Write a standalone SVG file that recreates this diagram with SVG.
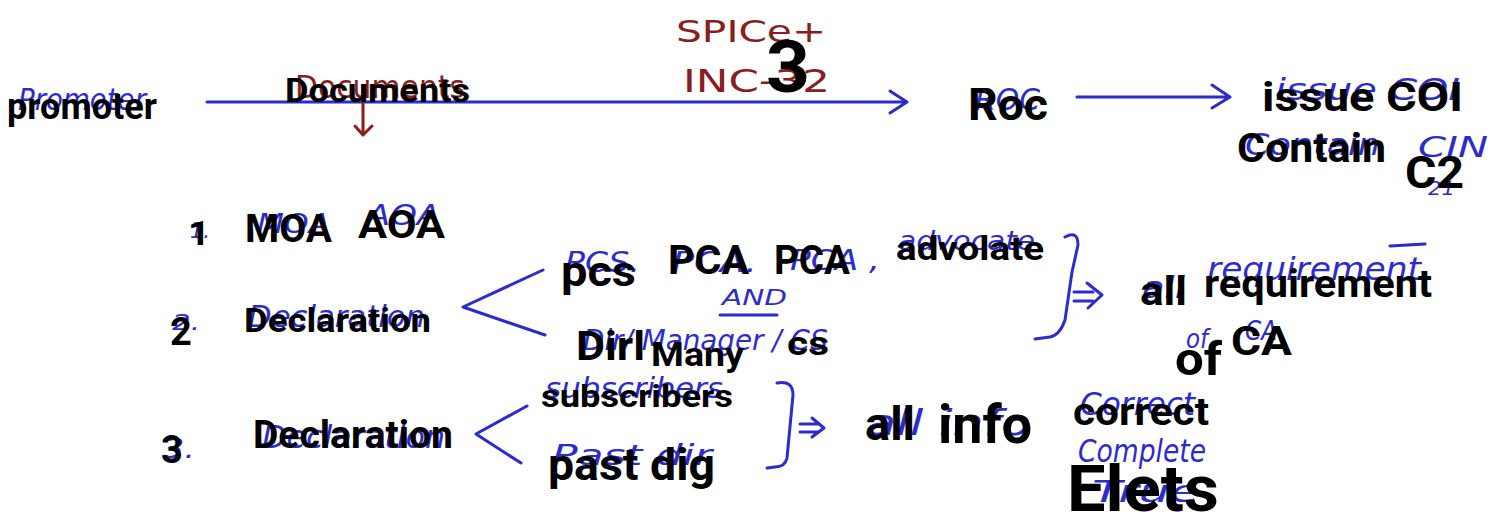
<svg xmlns="http://www.w3.org/2000/svg" width="1492" height="512" viewBox="0 0 1492 512">
  <defs>
    <style>
      .ink { fill: none; stroke: #2b2bcf; stroke-width: 3; stroke-linecap: round; stroke-linejoin: round; }
      .ink-red { fill: none; stroke: #8a1d1d; stroke-width: 3; stroke-linecap: round; stroke-linejoin: round; }
      .hand { font-family: "DejaVu Sans", "Noto Sans", sans-serif; font-style: oblique; font-weight: 400; fill: #2b2bcf; }
      .hand-red { font-family: "DejaVu Sans", "Noto Sans", sans-serif; font-weight: 400; fill: #8a1d1d; }
      .label { font-family: Roboto, Inter, "Liberation Sans", sans-serif; font-weight: 700; fill: #000; }
    </style>
  </defs>

  <rect x="0" y="0" width="1492" height="512" fill="#ffffff"/>

  <!-- arrows, brackets and branch marks -->
  <g id="connectors">
    <path class="ink" d="M207 102 H907 M890 91 L907 102 L890 113"/>
    <path class="ink" d="M1077 97 H1230 M1212 85 L1230 97 L1212 108"/>
    <path class="ink-red" d="M363 103 V135 M355 126 L363 135 L372 126"/>
    <path class="ink" d="M543 270 L463 307 L545 335"/>
    <path class="ink" d="M527 406 L476 434 L521 463"/>
    <path class="ink" d="M1065 237 Q1078 230 1078 245 L1072 272 L1065 320 Q1060 335 1050 337 L1035 339"/>
    <path class="ink" d="M1074 292 H1093 M1074 301 H1093 M1087 283 L1102 295 L1088 308"/>
    <path class="ink" d="M777 383 Q793 380 793 395 L787 458 Q785 467 775 467 L767 468"/>
    <path class="ink" d="M800 424 H818 M800 432 H818 M812 418 L824 428 L812 437"/>
    <path class="ink" d="M720 315 H777"/>
    <path class="ink" d="M1390 246 L1425 244"/>
  </g>

  <g id="promoter">
    <text class="hand" x="18" y="110" font-size="30" textLength="128" lengthAdjust="spacingAndGlyphs">Promoter</text>
    <text class="label" x="7" y="119" font-size="37" textLength="150" lengthAdjust="spacingAndGlyphs">promoter</text>
  </g>

  <g id="documents">
    <text class="hand-red" x="295" y="98" font-size="32" textLength="170" lengthAdjust="spacingAndGlyphs">Documents</text>
    <text class="label" x="285" y="102" font-size="33" textLength="185" lengthAdjust="spacingAndGlyphs">Documents</text>
  </g>

  <g id="spice">
    <text class="hand-red" x="676" y="42" font-size="30" textLength="150" lengthAdjust="spacingAndGlyphs">SPICe+</text>
    <text class="hand-red" x="683" y="92" font-size="32" textLength="147" lengthAdjust="spacingAndGlyphs">INC-32</text>
    <text class="label" x="766" y="92" font-size="73" textLength="44" lengthAdjust="spacingAndGlyphs">3</text>
  </g>

  <g id="roc">
    <text class="hand" x="975" y="110" font-size="30" textLength="65" lengthAdjust="spacingAndGlyphs">ROC</text>
    <text class="label" x="968" y="120" font-size="45" textLength="80" lengthAdjust="spacingAndGlyphs">Roc</text>
  </g>

  <g id="coi">
    <text class="hand" x="1275" y="100" font-size="30" textLength="185" lengthAdjust="spacingAndGlyphs">issue COI</text>
    <text class="hand" x="1245" y="155" font-size="30" textLength="135" lengthAdjust="spacingAndGlyphs">Contain</text>
    <text class="hand" x="1418" y="157" font-size="28" textLength="70" lengthAdjust="spacingAndGlyphs">CIN</text>
    <text class="hand" x="1428" y="195" font-size="20" textLength="27" lengthAdjust="spacingAndGlyphs">21</text>
    <text class="label" x="1262" y="111" font-size="41" textLength="201" lengthAdjust="spacingAndGlyphs">issue COI</text>
    <text class="label" x="1237" y="162" font-size="41" textLength="149" lengthAdjust="spacingAndGlyphs">Contain</text>
    <text class="label" x="1405" y="188" font-size="44" textLength="59" lengthAdjust="spacingAndGlyphs">C2</text>
  </g>

  <g id="item-1">
    <text class="hand" x="190" y="238" font-size="22" textLength="20" lengthAdjust="spacingAndGlyphs">1.</text>
    <text class="hand" x="257" y="233" font-size="26" textLength="73" lengthAdjust="spacingAndGlyphs">MOA</text>
    <text class="hand" x="367" y="225" font-size="28" textLength="73" lengthAdjust="spacingAndGlyphs">AOA</text>
    <text class="label" x="188" y="245" font-size="33" textLength="22" lengthAdjust="spacingAndGlyphs">1</text>
    <text class="label" x="245" y="242" font-size="38" textLength="87" lengthAdjust="spacingAndGlyphs">MOA</text>
    <text class="label" x="358" y="238" font-size="39" textLength="87" lengthAdjust="spacingAndGlyphs">AOA</text>
  </g>

  <g id="item-2">
    <text class="hand" x="172" y="330" font-size="22" textLength="28" lengthAdjust="spacingAndGlyphs">2.</text>
    <text class="hand" x="248" y="327" font-size="30" textLength="177" lengthAdjust="spacingAndGlyphs">Declaration</text>
    <text class="label" x="170" y="345" font-size="38">2</text>
    <text class="label" x="244" y="332" font-size="34" textLength="187" lengthAdjust="spacingAndGlyphs">Declaration</text>
  </g>

  <g id="signers">
    <text class="hand" x="565" y="272" font-size="28" textLength="75" lengthAdjust="spacingAndGlyphs">PCS.</text>
    <text class="hand" x="672" y="272" font-size="28" textLength="85" lengthAdjust="spacingAndGlyphs">PCA.</text>
    <text class="hand" x="790" y="270" font-size="28" textLength="90" lengthAdjust="spacingAndGlyphs">PCA ,</text>
    <text class="hand" x="898" y="250" font-size="26" textLength="137" lengthAdjust="spacingAndGlyphs">advocate</text>
    <text class="hand" x="722" y="305" font-size="22" textLength="65" lengthAdjust="spacingAndGlyphs">AND</text>
    <text class="hand" x="583" y="350" font-size="28" textLength="245" lengthAdjust="spacingAndGlyphs">Dir/ Manager / CS</text>
    <text class="label" x="561" y="286" font-size="43" textLength="75" lengthAdjust="spacingAndGlyphs">pcs</text>
    <text class="label" x="668" y="274" font-size="40" textLength="81" lengthAdjust="spacingAndGlyphs">PCA</text>
    <text class="label" x="774" y="274" font-size="40" textLength="76" lengthAdjust="spacingAndGlyphs">PCA</text>
    <text class="label" x="896" y="260" font-size="34" textLength="148" lengthAdjust="spacingAndGlyphs">advolate</text>
    <text class="label" x="576" y="360" font-size="40" textLength="69" lengthAdjust="spacingAndGlyphs">Dirl</text>
    <text class="label" x="651" y="366" font-size="33" textLength="93" lengthAdjust="spacingAndGlyphs">Many</text>
    <text class="label" x="787" y="355" font-size="33" textLength="42" lengthAdjust="spacingAndGlyphs">cs</text>
  </g>

  <g id="requirement">
    <text class="hand" x="1142" y="298" font-size="30" textLength="43" lengthAdjust="spacingAndGlyphs">all</text>
    <text class="hand" x="1207" y="280" font-size="32" textLength="214" lengthAdjust="spacingAndGlyphs">requirement</text>
    <text class="hand" x="1186" y="348" font-size="26" textLength="22" lengthAdjust="spacingAndGlyphs">of</text>
    <text class="hand" x="1245" y="340" font-size="26" textLength="32" lengthAdjust="spacingAndGlyphs">CA</text>
    <text class="label" x="1140" y="305" font-size="41" textLength="47" lengthAdjust="spacingAndGlyphs">all</text>
    <text class="label" x="1204" y="297" font-size="38" textLength="228" lengthAdjust="spacingAndGlyphs">requirement</text>
    <text class="label" x="1175" y="375" font-size="46" textLength="47" lengthAdjust="spacingAndGlyphs">of</text>
    <text class="label" x="1231" y="355" font-size="40" textLength="61" lengthAdjust="spacingAndGlyphs">CA</text>
  </g>

  <g id="item-3">
    <text class="hand" x="163" y="458" font-size="26" textLength="32" lengthAdjust="spacingAndGlyphs">3.</text>
    <text class="hand" x="262" y="448" font-size="32" textLength="183" lengthAdjust="spacingAndGlyphs">Declaration</text>
    <text class="label" x="161" y="463" font-size="38">3</text>
    <text class="label" x="253" y="448" font-size="38" textLength="200" lengthAdjust="spacingAndGlyphs">Declaration</text>
  </g>

  <g id="subscribers">
    <text class="hand" x="545" y="398" font-size="28" textLength="178" lengthAdjust="spacingAndGlyphs">subscribers</text>
    <text class="hand" x="552" y="465" font-size="28" textLength="160" lengthAdjust="spacingAndGlyphs">Past dir</text>
    <text class="label" x="541" y="407" font-size="31" textLength="192" lengthAdjust="spacingAndGlyphs">subscribers</text>
    <text class="label" x="548" y="480" font-size="44" textLength="167" lengthAdjust="spacingAndGlyphs">past dig</text>
  </g>

  <g id="all-info">
    <text class="hand" x="866" y="435" font-size="36" textLength="165" lengthAdjust="spacingAndGlyphs">all info</text>
    <text class="hand" x="1080" y="415" font-size="32" textLength="115" lengthAdjust="spacingAndGlyphs">Correct</text>
    <text class="hand" x="1078" y="462" font-size="32" textLength="128" lengthAdjust="spacingAndGlyphs">Complete</text>
    <text class="hand" x="1092" y="502" font-size="30" textLength="108" lengthAdjust="spacingAndGlyphs">True</text>
    <text class="label" x="865" y="440" font-size="46" textLength="50" lengthAdjust="spacingAndGlyphs">all</text>
    <text class="label" x="938" y="443" font-size="53" textLength="94" lengthAdjust="spacingAndGlyphs">info</text>
    <text class="label" x="1073" y="425" font-size="38" textLength="136" lengthAdjust="spacingAndGlyphs">correct</text>
    <text class="label" x="1067" y="511" font-size="64" textLength="152" lengthAdjust="spacingAndGlyphs">Elets</text>
  </g>
</svg>
